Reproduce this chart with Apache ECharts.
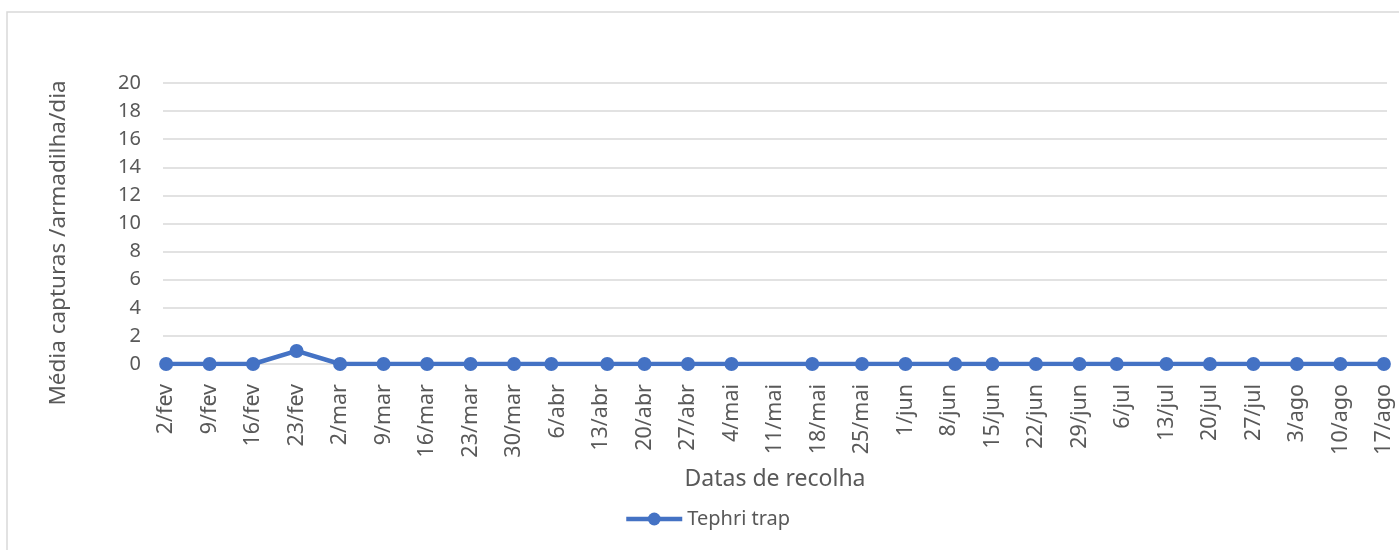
<!DOCTYPE html>
<html>
<head>
<meta charset="utf-8">
<script src="https://cdn.jsdelivr.net/npm/echarts@6/dist/echarts.min.js"></script>
<style>html,body{margin:0;padding:0;background:#fff;}#c{width:1399px;height:550px;}</style>
</head>
<body>
<div id="c"></div>
<script>
const baseDate = '2021-02-02';
const tickLabels = ['2/fev','9/fev','16/fev','23/fev','2/mar','9/mar','16/mar','23/mar','30/mar','6/abr','13/abr','20/abr','27/abr','4/mai','11/mai','18/mai','25/mai','1/jun','8/jun','15/jun','22/jun','29/jun','6/jul','13/jul','20/jul','27/jul','3/ago','10/ago','17/ago'];
const sampleDates = ['2021-02-02','2021-02-09','2021-02-16','2021-02-23','2021-03-02','2021-03-09','2021-03-16','2021-03-23','2021-03-30','2021-04-05','2021-04-14','2021-04-20','2021-04-27','2021-05-04','2021-05-17','2021-05-25','2021-06-01','2021-06-09','2021-06-15','2021-06-22','2021-06-29','2021-07-05','2021-07-13','2021-07-20','2021-07-27','2021-08-03','2021-08-10','2021-08-17'];
const captures = [0,0,0,0.93,0,0,0,0,0,0,0,0,0,0,0,0,0,0,0,0,0,0,0,0,0,0,0,0];
const seriesName = 'Tephri trap';
const xTitle = 'Datas de recolha';
const yTitle = 'Média capturas /armadilha/dia';

const DAY = 86400000;
const base = Date.parse(baseDate);
const dayOf = d => Math.round((Date.parse(d) - base) / DAY);
const points = sampleDates.map((d, i) => [dayOf(d), captures[i]]);
const tickDays = tickLabels.map((_, i) => i * 7);

const font = '"Noto Sans", sans-serif';
const txt = '#595959';
const chart = echarts.init(document.getElementById('c'));
chart.setOption({
  animation: false,
  backgroundColor: '#fff',
  grid: { left: 163, right: 12, top: 83, bottom: 186, containLabel: false },
  xAxis: {
    type: 'value', min: -0.5, max: tickDays[tickDays.length - 1] + 0.5,
    axisLine: { show: false }, axisTick: { show: false }, splitLine: { show: false },
    axisLabel: {
      customValues: tickDays, rotate: 90, margin: 20,
      color: txt, fontFamily: font, fontSize: 21.5,
      formatter: v => tickLabels[Math.round(v / 7)]
    }
  },
  yAxis: {
    type: 'value', min: 0, max: 20, interval: 2,
    axisLine: { show: false }, axisTick: { show: false },
    splitLine: { lineStyle: { color: '#d9d9d9', width: 1.5 } },
    axisLabel: { margin: 22, color: txt, fontFamily: font, fontSize: 20 }
  },
  legend: {
    left: 624, top: 509, padding: 0, itemWidth: 56, itemHeight: 16, itemGap: 10,
    textStyle: { color: txt, fontFamily: font, fontSize: 20 },
    lineStyle: { width: 4.5 },
    data: [seriesName]
  },
  series: [{
    name: seriesName, type: 'line', data: points,
    symbol: 'circle', symbolSize: 14,
    lineStyle: { color: '#4472C4', width: 4.5 },
    itemStyle: { color: '#4472C4' }
  }],
  graphic: [
    { type: 'rect', shape: { x: 7, y: 12, width: 1420, height: 600 },
      style: { fill: 'none', stroke: '#d9d9d9', lineWidth: 1.5 }, silent: true, z: -10 },
    { type: 'text', x: 775, y: 479,
      style: { text: xTitle, fill: txt, font: '23px "Noto Sans", sans-serif', textAlign: 'center', textVerticalAlign: 'middle' } },
    { type: 'text', x: 59, y: 243, rotation: Math.PI / 2,
      style: { text: yTitle, fill: txt, font: '22.5px "Noto Sans", sans-serif', textAlign: 'center', textVerticalAlign: 'middle' } }
  ]
});
</script>
</body>
</html>
